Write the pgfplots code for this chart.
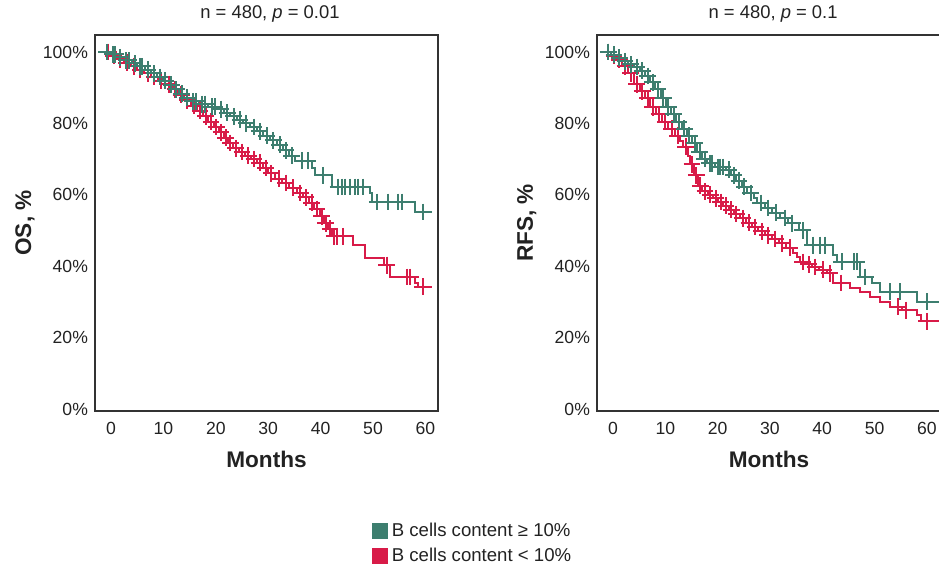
\documentclass[border=0pt]{standalone}
\usepackage{pgfplots}
\pgfplotsset{compat=1.18}
\usepackage{pgfplotstable}
\usepackage{fontspec}
\setmainfont{Liberation Sans}
\definecolor{gcol}{HTML}{3D7E6F}
\definecolor{rcol}{HTML}{D81B48}
\definecolor{axcol}{HTML}{333333}
\definecolor{txtcol}{HTML}{222222}

% OS, B cells >= 10%
\pgfplotstableread{
t s c
-1.5 100 0
-0.8 100 1
-0.2 99.3 0
0.3 99.3 1
0.8 99.3 1
1.3 98.5 0
1.8 98.5 1
2.4 97.7 0
2.9 97.7 1
3.4 97.7 1
4 96.8 0
4.5 96.8 1
5 96 0
5.5 96 1
6 96 1
6.5 95 0
7 95 1
7.6 94 0
8.2 94 1
8.8 93 0
9.3 93 1
9.9 92 0
10.4 92 1
11 90.8 0
11.5 90.8 1
12 89.5 0
12.5 89.5 1
13 88.3 0
13.5 88.3 1
14 87.2 0
14.5 87.2 1
15 86.2 0
15.6 86.2 1
16.2 86.2 1
16.8 85.4 0
17.4 85.4 1
18 85.4 1
18.6 84.7 0
19.2 84.7 1
19.8 84.7 1
20.4 84 0
21 84 1
21.6 83 0
22.2 83 1
22.8 82 0
23.4 82 1
24 81 0
24.6 81 1
25.2 80 0
25.8 80 1
26.5 79 0
27.2 79 1
27.8 77.8 0
28.4 77.8 1
29 76.5 0
29.7 76.5 1
30.4 75.3 0
31 75.3 1
31.6 74 0
32.2 74 1
32.8 72.5 0
33.4 72.5 1
34 71 0
34.5 71 1
35.2 69.5 0
36.5 69.5 1
37.6 69.5 1
38.4 67.5 0
39 65.5 0
40.5 65.5 1
42.2 62.2 0
43.3 62.2 1
44.1 62.2 1
44.7 62.2 1
45.6 62.2 1
46.6 62.2 1
47.1 62.2 1
48.1 62.2 1
49.4 60.5 0
49.8 58 0
50.8 58 1
52.9 58 1
54.8 58 1
55.5 58 1
58 55.2 0
59.5 55.2 1
61.3 55.2 0
}\osG

% OS, B cells < 10%
\pgfplotstableread{
t s c
-1.5 100 0
-0.5 100 1
0 99 0
0.5 99 1
1.2 98 0
1.8 98 1
2.5 97 0
3 97 1
3.8 96 0
4.3 96 1
5 95 0
5.6 95 1
6.3 94 0
7 94 1
7.6 93 0
8.3 93 1
9 92 0
9.6 92 1
10.3 91 0
11 91 1
11.6 89.5 0
12.2 89.5 1
12.8 88 0
13.4 88 1
14 86.5 0
14.6 86.5 1
15.3 85 0
15.9 85 1
16.5 83.5 0
17 83.5 1
17.6 82 0
18.1 82 1
18.6 80.5 0
19.1 80.5 1
19.6 79 0
20.1 79 1
20.6 77.5 0
21 77.5 1
21.5 76 0
21.9 76 1
22.4 74.5 0
22.8 74.5 1
23.3 73 0
23.8 73 1
24.4 72 0
25 72 1
25.6 71 0
26.2 71 1
26.8 70 0
27.3 70 1
27.9 69 0
28.4 69 1
29 67.5 0
29.5 67.5 1
30 66 0
30.6 66 1
31.3 64.5 0
32 64.5 1
32.6 63.3 0
33.3 63.3 1
34 62 0
34.8 62 1
35.5 60.5 0
36.1 60.5 1
36.6 59.3 0
37.2 59.3 1
37.8 57.8 0
38.3 57.8 1
38.8 56 0
39.3 56 1
39.8 54 0
40.2 54 1
40.6 52 0
41 52 1
41.4 50.5 0
41.8 50.5 1
42.2 48.4 0
42.6 48.4 1
43.2 48.4 1
44.3 48.4 1
46.2 45.9 0
48.5 42.2 0
52.1 40.3 0
52.6 40.3 1
53.2 37 0
56.5 37 1
57.1 37 1
58 35.2 0
58.6 34.3 0
59.5 34.3 1
61.3 34.3 0
}\osR

% RFS, B cells >= 10%
\pgfplotstableread{
t s c
-1.5 100 0
-0.9 100 1
-0.3 99.2 0
0.2 99.2 1
0.7 98.4 0
1.2 98.4 1
1.8 97.4 0
2.3 97.4 1
2.9 96.5 0
3.4 96.5 1
4 95.8 0
4.5 95.8 1
5.1 94.8 0
5.6 94.8 1
6.1 93.3 0
6.6 93.3 1
7.1 91.5 0
7.6 91.5 1
8.1 89.5 0
8.6 89.5 1
9.1 87 0
9.6 87 1
10.1 84.5 0
10.6 84.5 1
11.1 82.5 0
11.6 82.5 1
12.1 80.5 0
12.6 80.5 1
13.1 78.5 0
13.6 78.5 1
14.1 76.5 0
14.6 76.5 1
15.1 74.5 0
15.6 74.5 1
16.1 72 0
16.6 72 1
17 70 0
17.5 70 1
18 68.8 0
18.5 68.8 1
19 68.8 1
19.5 67.8 0
20 67.8 1
20.5 67.8 1
21 67.8 1
21.6 67 0
22.1 67 1
22.6 65.5 0
23.1 65.5 1
23.6 64 0
24.1 64 1
24.6 62.3 0
25.1 62.3 1
25.7 60.5 0
26.3 60.5 1
26.9 59 0
27.5 57.7 0
28.2 57.7 1
29 56.3 0
29.7 56.3 1
30.4 55 0
31.2 55 1
32 53.5 0
32.8 53.5 1
33.5 52 0
34.3 52 1
35.5 50 0
36.3 50 1
37 45.9 0
38.2 45.9 1
39.6 45.9 1
40.5 45.9 1
42.1 43.1 0
42.9 41.3 0
43.7 41.3 1
46 41.3 1
46.6 41.3 1
47.2 37 0
48.2 37 1
49.5 35.3 0
51 32.9 0
53 32.9 1
54.9 32.9 1
58.1 30.1 0
60 30.1 1
63 30.1 0
}\rfsG

% RFS, B cells < 10%
\pgfplotstableread{
t s c
-1.5 100 0
-0.9 100 1
-0.3 99 0
0.2 99 1
0.7 97.8 0
1.2 97.8 1
1.8 96 0
2.3 96 1
2.9 94 0
3.4 94 1
4 91 0
4.5 91 1
5.1 89 0
5.6 89 1
6.1 87 0
6.6 87 1
7.1 84.5 0
7.6 84.5 1
8.2 82.5 0
8.8 82.5 1
9.4 80.5 0
10 80.5 1
10.6 78.5 0
11.2 78.5 1
11.8 76.5 0
12.4 76.5 1
12.9 75 0
13.4 73.5 0
13.9 73.5 1
14.3 71 0
14.7 68.5 0
15.1 68.5 1
15.5 65.5 0
15.9 65.5 1
16.3 62.5 0
16.7 62.5 1
17.1 61 0
17.6 61 1
18.1 60 0
18.6 60 1
19.1 59 0
19.6 59 1
20.1 58 0
20.6 58 1
21.1 57 0
21.6 57 1
22.1 55.8 0
22.6 55.8 1
23.1 54.6 0
23.6 54.6 1
24.2 53.4 0
24.8 53.4 1
25.4 52.2 0
26 52.2 1
26.6 51 0
27.2 51 1
27.8 49.8 0
28.4 49.8 1
29 48.7 0
29.6 48.7 1
30.3 47.6 0
31 47.6 1
31.7 46.4 0
32.4 46.4 1
33.1 45.2 0
33.8 45.2 1
34.5 43.8 0
35.2 42.5 0
35.8 41.2 0
36.3 41.2 1
36.9 40.5 0
37.4 40.5 1
38 39.8 0
38.6 39.8 1
39.4 39 0
40.2 39 1
40.9 38 0
41.4 38 1
42 35.3 0
43.5 35.3 1
45.3 33.9 0
47.2 32.8 0
49.1 31.4 0
51 30 0
53 28.6 0
54.5 28.6 1
55.3 27.7 0
56 27.7 1
58.1 26.3 0
58.8 24.6 0
60 24.6 1
63 24.6 0
}\rfsR

\pgfplotsset{
  kmaxis/.style={
    scale only axis, width=171.5pt, height=188pt,
    ymin=-0.56, ymax=104.76,
    xtick={0,10,...,60}, ytick={0,20,...,100},
    yticklabels={0\%,20\%,40\%,60\%,80\%,100\%},
    major tick length=0pt,
    tick label style={font=\fontsize{8.8}{10}\selectfont, text=txtcol},
    xticklabel style={yshift=-2pt},
    /pgf/number format/assume math mode=true,
    axis line style={axcol, line width=0.9pt},
    label style={font=\bfseries\fontsize{11.3}{13}\selectfont, text=txtcol},
    xlabel=Months,
    xlabel style={at={(axis description cs:0.5,-0.128)}, anchor=center},
    ylabel style={at={(axis description cs:-0.204,0.5)}, anchor=center},
    every axis title shift=0pt,
    title style={at={(axis description cs:0.51,1.056)}, anchor=center,
      font=\fontsize{9.2}{11}\selectfont, text=txtcol},
    legend image code/.code={\fill[#1] (0pt,-4pt) rectangle (8pt,4pt);},
  },
  kmline/.style={const plot, line width=1pt, mark=none, forget plot},
  kmmark/.style={only marks, mark=+, mark size=4.2pt,
    mark options={line width=1pt}, forget plot,
    restrict expr to domain={\thisrow{c}}{0.5:1.5}},
}

\begin{document}
\begin{tikzpicture}
\useasboundingbox (0,0) rectangle (469.5pt,284pt);
\begin{axis}[kmaxis, at={(47.5pt,78.5pt)}, anchor=south west,
  xmin=-3.05, xmax=62.4,
  ylabel={OS, \%},
  title={n = 480, \textit{p} = 0.01},
  legend style={at={(axis description cs:1.1035,-0.353)}, anchor=center,
    draw=none, fill=none, font=\fontsize{9.3}{11}\selectfont, text=txtcol,
    row sep=0.4pt, /tikz/every even column/.style={column sep=3.3pt}},
  legend cell align=left]
\addlegendimage{fill=gcol, draw=none}
\addlegendentry{B cells content ≥ 10\%}
\addlegendimage{fill=rcol, draw=none}
\addlegendentry{B cells content < 10\%}
\addplot[kmline, rcol] table[x=t, y=s] {\osR};
\addplot[kmmark, rcol] table[x=t, y=s] {\osR};
\addplot[kmline, gcol] table[x=t, y=s] {\osG};
\addplot[kmmark, gcol] table[x=t, y=s] {\osG};
\end{axis}
\begin{axis}[kmaxis, at={(298.5pt,78.5pt)}, anchor=south west,
  width=172pt, xmin=-3.06, xmax=62.7,
  ylabel={RFS, \%},
  title={n = 480, \textit{p} = 0.1},
  title style={at={(axis description cs:0.512,1.056)}}]
\addplot[kmline, rcol] table[x=t, y=s] {\rfsR};
\addplot[kmmark, rcol] table[x=t, y=s] {\rfsR};
\addplot[kmline, gcol] table[x=t, y=s] {\rfsG};
\addplot[kmmark, gcol] table[x=t, y=s] {\rfsG};
\end{axis}
\end{tikzpicture}
\end{document}
